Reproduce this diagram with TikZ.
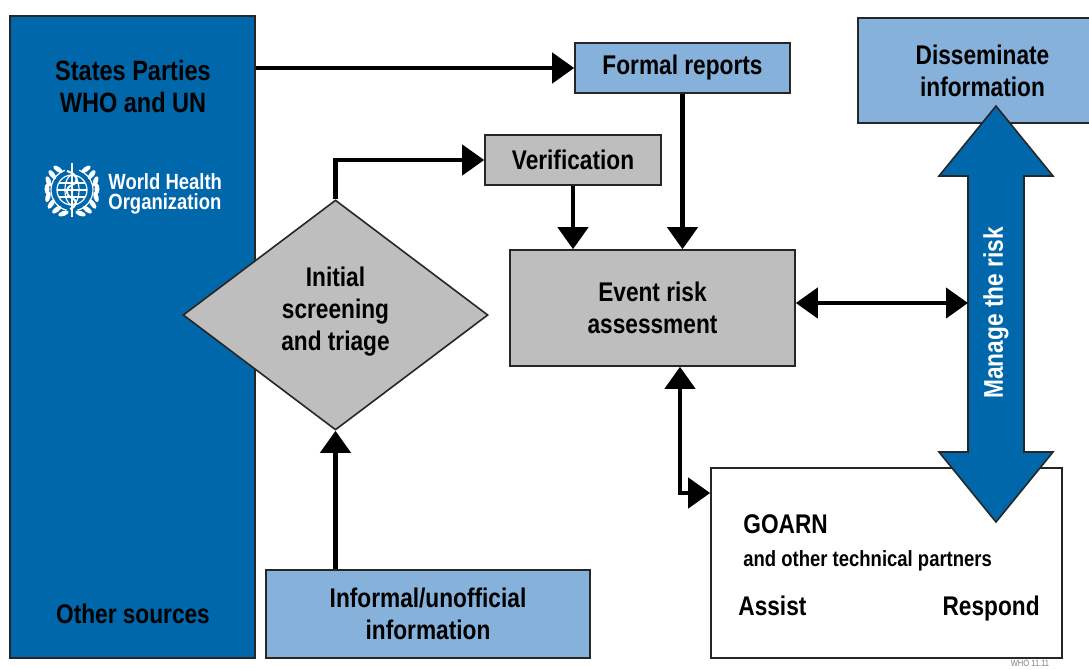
\documentclass[tikz,border=0pt]{standalone}
\usepackage{fontspec}
\setmainfont{Liberation Sans}[FakeStretch=0.84]
\usepackage{tikz}
\usetikzlibrary{shapes.geometric,arrows.meta}
\definecolor{whoblue}{HTML}{0167AB}
\definecolor{lightblue}{HTML}{85B1DA}
\definecolor{boxgray}{HTML}{BEBEBE}
\definecolor{edgegray}{HTML}{262626}

\begin{document}
\begin{tikzpicture}[x=0.5pt, y=-0.5pt,
    >={Triangle[length=11pt,width=15pt]},
    box/.style={draw=edgegray, line width=0.8pt, inner sep=2pt, align=center, font=\fontsize{13.5}{16}\selectfont\bfseries},
    lbl/.style={inner sep=0pt, align=center, font=\fontsize{13.5}{16}\selectfont\bfseries},
    arr/.style={->, line width=2.2pt},
    darr/.style={<->, line width=2.2pt}]
            \useasboundingbox (0,0) rectangle (1089,670);
            \fill [white] (0,0) rectangle (1089,670);
            % sources panel
            \node (src) at (132.5,337) [draw=edgegray, line width=0.8pt, fill=whoblue, minimum width=122.5pt, minimum height=321pt] {};
            \node (sp) at (133,86) [lbl, font=\fontsize{14}{16}\selectfont\bfseries] {States Parties\\WHO and UN};
            \node (os) at (133,614) [lbl] {Other sources};
            \node (who) at (108,194) [anchor=west, inner sep=0pt, align=left, text=white, font=\fontsize{11}{10}\selectfont\bfseries] {World Health\\Organization};
            % emblem
            \begin{scope}[shift={(72,190)}, white, line width=0.6pt]
                \draw (0,0) circle [radius=15];
                \draw (0,0) ellipse [x radius=7, y radius=15];
                \draw (-15,0) -- (15,0);
                \draw (-13,-7) -- (13,-7);
                \draw (-13,7) -- (13,7);
                \draw (105:21) arc [start angle=105, end angle=250, radius=21];
                \draw (75:21) arc [start angle=75, end angle=-70, radius=21];
                \foreach \a in {110,128,...,245}
                    \fill [shift={(\a:25)}, rotate=\a] (0,0) ellipse [x radius=2.5, y radius=5.5];
                \foreach \a in {70,52,...,-65}
                    \fill [shift={(\a:25)}, rotate=\a] (0,0) ellipse [x radius=2.5, y radius=5.5];
                \draw [line width=1.3pt] (0,-27) -- (0,27);
                \draw [line width=1pt] (-5,-19) .. controls (7,-15) and (7,-8) .. (0,-5) .. controls (-7,-2) and (-7,5) .. (0,8) .. controls (6,11) and (5,16) .. (-2,19);
            \end{scope}
            % process boxes
            \node (fr) at (682.5,68) [box, fill=lightblue, minimum width=107.5pt, minimum height=25pt] {Formal reports};
            \node (ver) at (573,160) [box, fill=boxgray, minimum width=88pt, minimum height=25pt] {Verification};
            \node (ist) at (335.5,315) [box, diamond, aspect=1.33, inner sep=0pt, fill=boxgray, minimum width=152.5pt, minimum height=115pt] {Initial\\screening\\and triage\\[-10pt]};
            \node (era) at (652.5,308) [box, fill=boxgray, minimum width=142.5pt, minimum height=58pt] {Event risk\\assessment};
            \node (inf) at (428,614) [box, fill=lightblue, minimum width=162pt, minimum height=44pt] {Informal/unofficial\\information};
            \node (dis) at (982.5,70.5) [box, fill=lightblue, minimum width=124.5pt, minimum height=52.5pt] {Disseminate\\information};
            \node (goarn) at (886.5,563) [draw=edgegray, line width=0.8pt, fill=white, minimum width=175.5pt, minimum height=95pt] {};
            \node (go) at (743,533) [lbl, anchor=base west] {GOARN};
            \node (tp) at (743,566) [lbl, anchor=base west, font=\fontsize{11}{13}\selectfont\bfseries] {and other technical partners};
            \node (as) at (738,615) [lbl, anchor=base west] {Assist};
            \node (rs) at (1040,615) [lbl, anchor=base east] {Respond};
            % manage the risk
            \draw [draw=edgegray, line width=0.8pt, fill=whoblue] (996,106) -- (939,176) -- (968,176) -- (968,452) -- (939,452) -- (996,522) -- (1053,452) -- (1024,452) -- (1024,176) -- (1053,176) -- cycle;
            \node (mg) at (996,313) [lbl, rotate=90, text=white] {Manage the risk};
            \coordinate (mgl) at (968,303);
            \coordinate (gk) at (680,493);
            \node (ref) at (1030,660) [anchor=north, inner sep=0pt, text=gray, font=\fontsize{4.5}{5}\selectfont] {WHO 11.11};
            % connectors
            \draw [arr] (src.east |- fr.west) -- (fr.west);
            \draw [arr] (ist.north) |- (ver.west);
            \draw [arr] (ver.south) -- (ver.south |- era.north);
            \draw [arr] (fr.south) -- (fr.south |- era.north);
            \draw [arr] (ist.south |- inf.north) -- (ist.south);
            \draw [darr] (era.east |- mgl) -- (mgl);
            \draw [darr] (era.south -| gk) -- (gk) -- (gk -| goarn.west);
\end{tikzpicture}
\end{document}
